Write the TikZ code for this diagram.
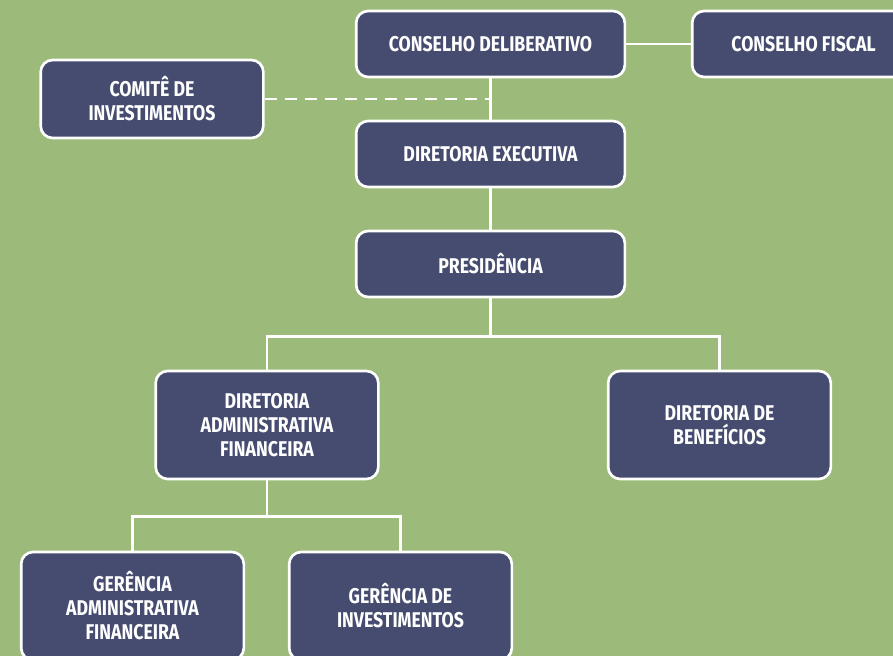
\documentclass[tikz,border=0pt]{standalone}
\usepackage{fontspec}
\setmainfont{Fira Sans}[FakeStretch=0.83]
\usepackage{xcolor}
\usepackage{tikz}
\usetikzlibrary{calc}

\definecolor{fundo}{RGB}{156,186,122}
\definecolor{caixa}{RGB}{70,76,111}

\tikzset{
  orgbox/.style={draw=white,line width=2pt,fill=caixa,rounded corners=9pt,
    text=white,font=\fontsize{16}{18}\selectfont\bfseries,align=center,
    inner sep=2pt},
  largo/.style={orgbox,minimum width=201.5pt,minimum height=49.5pt},
  medio/.style={orgbox,minimum width=167pt,minimum height=58.5pt},
  alto/.style={orgbox,minimum width=167pt,minimum height=81pt},
  linha/.style={white,line width=2pt},
}

\begin{document}
\begin{tikzpicture}[x=0.75pt,y=-0.75pt]
            \useasboundingbox (0,0) rectangle (893,656);
            \fill[fundo] (0,0) rectangle (893,656);
            \clip (0,0) rectangle (893,656);
            % topo
            \node[largo] (cd) at (490.5,44) {CONSELHO DELIBERATIVO};
            \node[largo,minimum width=167pt] (cf) at (803.5,44) {CONSELHO FISCAL};
            \node[medio] (ci) at (152,99) {COMITÊ DE\\INVESTIMENTOS};
            \node[largo] (de) at (490.5,154) {DIRETORIA EXECUTIVA};
            \node[largo] (pr) at (490.5,264) {PRESIDÊNCIA};
            % diretorias
            \node[alto] (daf) at (267,425) {DIRETORIA\\ADMINISTRATIVA\\FINANCEIRA};
            \node[alto] (db) at (719.5,425) {DIRETORIA DE\\BENEFÍCIOS};
            % gerencias
            \node[alto] (gaf) at (132.5,606) {GERÊNCIA\\ADMINISTRATIVA\\FINANCEIRA};
            \node[alto] (gi) at (400.5,606) {GERÊNCIA DE\\INVESTIMENTOS};
            % ligacoes
            \draw[linha] (cd.east)--(cf.west);
            \draw[linha] (cd.south)--(de.north);
            \coordinate (cx) at (ci.east -| cd.south);
            \draw[linha,dash pattern=on 9.5pt off 5.5pt] (ci.east)--(cx);
            \draw[linha] (de.south)--(pr.north);
            \draw[linha] (pr.south)--++(0,38) coordinate (p1);
            \draw[linha] (p1)-|(daf.north);
            \draw[linha] (p1)-|(db.north);
            \draw[linha] (daf.south)--++(0,36) coordinate (p2);
            \draw[linha] (p2)-|(gaf.north);
            \draw[linha] (p2)-|(gi.north);
        \end{tikzpicture}
\end{document}
